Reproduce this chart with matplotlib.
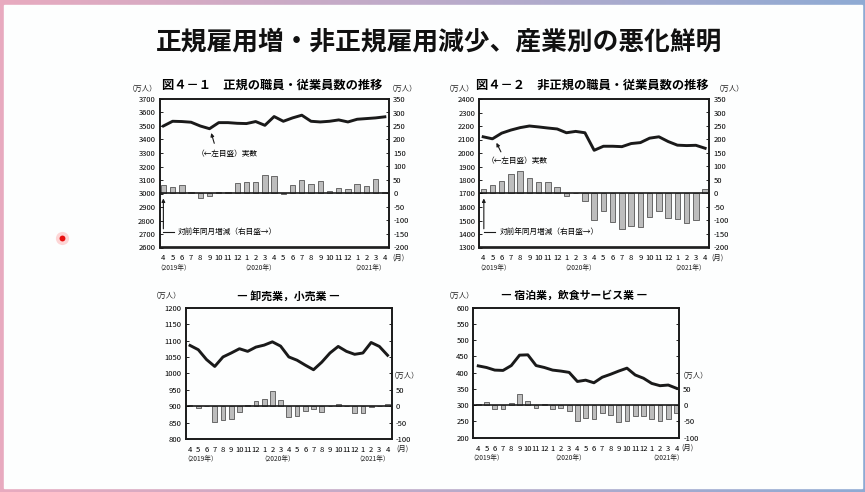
import numpy as np
import matplotlib
matplotlib.use("Agg")
import matplotlib.pyplot as plt
from matplotlib.patches import Rectangle

plt.rcParams["font.family"] = ["Noto Sans CJK JP", "DejaVu Sans"]

W, H = 865, 492

# months Apr 2019 .. Apr 2021
months = [4, 5, 6, 7, 8, 9, 10, 11, 12, 1, 2, 3, 4, 5, 6, 7, 8, 9, 10, 11, 12, 1, 2, 3, 4]

# fig 4-1 regular employees (level, left axis) and y/y change (right axis)
reg_level = [3500, 3535, 3533, 3528, 3500, 3480, 3525, 3525, 3520, 3518, 3533, 3505,
             3570, 3535, 3560, 3580, 3535, 3530, 3535, 3545, 3530, 3550, 3555, 3560, 3568]
reg_change = [33, 23, 31, 4, -18, -10, 5, 7, 40, 42, 43, 68,
              64, -1, 31, 51, 37, 46, 9, 21, 16, 36, 27, 53, 4]

# fig 4-2 non-regular employees
nonreg_level = [2120, 2105, 2147, 2170, 2188, 2200, 2193, 2185, 2178, 2150, 2160, 2150,
                2020, 2050, 2050, 2047, 2070, 2077, 2110, 2120, 2085, 2058, 2055, 2057, 2035]
nonreg_change = [15, 30, 47, 72, 83, 59, 41, 44, 25, -9, 0, -28,
                 -97, -63, -105, -131, -121, -123, -86, -63, -89, -93, -109, -97, 18]

# wholesale / retail
wr_level = [1085, 1072, 1042, 1021, 1050, 1062, 1075, 1067, 1080, 1086, 1096, 1083,
            1050, 1040, 1025, 1011, 1034, 1062, 1082, 1067, 1058, 1062, 1094, 1082, 1055]
wr_change = [5, -7, 0, -48, -43, -38, -17, 4, 16, 23, 46, 18,
             -34, -31, -15, -9, -17, 0, 8, 0, -22, -22, -2, 0, 8]

# accommodation / food service
af_level = [421, 416, 408, 407, 422, 454, 455, 422, 416, 408, 405, 401,
            373, 377, 369, 386, 395, 405, 414, 393, 383, 367, 360, 362, 352]
af_change = [5, 9, -11, -11, 6, 33, 14, -9, 3, -11, -8, -18,
             -50, -40, -41, -25, -30, -52, -48, -33, -34, -42, -50, -43, -24]

BAR = "#bdbdbd"
INK = "#1a1a1a"


def P(x, y):
    """pixel position (from top-left) -> figure fraction"""
    return x / W, 1 - y / H


def rect(x0, y0, x1, y1):
    return [x0 / W, 1 - y1 / H, (x1 - x0) / W, (y1 - y0) / H]


fig = plt.figure(figsize=(W / 100, H / 100), dpi=100)

# slide background (gradient border + white page)
bg = fig.add_axes([0, 0, 1, 1])
t = np.linspace(0, 1, 256)
left_c = np.array([0.91, 0.67, 0.75])
right_c = np.array([0.56, 0.67, 0.83])
grad = (left_c[None, :] * (1 - t[:, None]) + right_c[None, :] * t[:, None])[None, :, :]
bg.imshow(grad, aspect="auto", extent=[0, W, H, 0])
bg.add_patch(Rectangle((4, 5), 858, 483, color="#fdfefe"))
bg.scatter([62], [238], s=90, color="#ff6060", alpha=0.25, lw=0)
bg.scatter([62], [238], s=18, color="#e81010", lw=0)
bg.set_xlim(0, W); bg.set_ylim(H, 0); bg.axis("off")

fig.text(*P(439, 42), "正規雇用増・非正規雇用減少、産業別の悪化鮮明", fontsize=18.5,
         fontweight="bold", ha="center", va="center", color="#111")


def panel(r, level, change, ylim, yticks, rlim, rticks, rlab_max, xlim, fs=5.5):
    ax = fig.add_axes(r)
    ax2 = ax.twinx()
    x = np.arange(len(months))
    ax2.bar(x, change, width=0.58, color=BAR, edgecolor="#555", linewidth=0.6)
    ax2.axhline(0, color=INK, lw=1.2)
    ax.plot(x, level, color=INK, lw=2.1, solid_joinstyle="round")
    ax.set_zorder(ax2.get_zorder() + 1); ax.patch.set_visible(False)
    ax.set_xlim(*xlim); ax.set_ylim(*ylim); ax2.set_ylim(*rlim)
    ax.set_yticks(yticks)
    ax2.set_yticks(rticks)
    ax2.set_yticklabels([f"{v}" if v <= rlab_max else "" for v in rticks])
    ax.set_xticks(x)
    ax.set_xticklabels([str(m) for m in months])
    ax.tick_params(axis="x", length=0, labelsize=fs, pad=5)
    ax.tick_params(axis="y", direction="in", length=2.5, width=0.6, labelsize=fs, pad=3)
    ax2.tick_params(axis="y", direction="in", length=2.5, width=0.6, labelsize=fs, pad=3)
    for a in (ax, ax2):
        for s in a.spines.values():
            s.set_linewidth(1.2); s.set_color(INK)
    return ax, ax2


# ---- Fig 4-1
ax1, ax1r = panel(rect(159.5, 99, 389, 247.5), reg_level, reg_change,
                  (2600, 3700), range(2600, 3701, 100), (-200, 350),
                  range(-200, 351, 50), 350, (-0.42, 24.45))
fig.text(*P(272, 85), "図４－１　正規の職員・従業員数の推移", fontsize=8.8,
         fontweight="bold", ha="center", va="center")
ax1.annotate("", xy=(5.1, 3468), xytext=(5.6, 3352),
             arrowprops=dict(arrowstyle="-|>", color=INK, lw=0.8, mutation_scale=5))
ax1.text(6.9, 3290, "（←左目盛）実数", fontsize=5.5, ha="center", va="center")
ax1r.annotate("", xy=(0, -8), xytext=(0, -141),
              arrowprops=dict(arrowstyle="-|>", color=INK, lw=0.8, mutation_scale=5))
ax1r.plot([0, 1.15], [-141, -141], color=INK, lw=0.8)
ax1r.text(1.6, -141, "対前年同月増減（右目盛→）", fontsize=5.5, ha="left", va="center")

# ---- Fig 4-2
ax2, ax2r = panel(rect(479.3, 99, 709.3, 247.5), nonreg_level, nonreg_change,
                  (1300, 2400), range(1300, 2401, 100), (-200, 350),
                  range(-200, 351, 50), 350, (-0.42, 24.45))
fig.text(*P(592, 85), "図４－２　非正規の職員・従業員数の推移", fontsize=8.8,
         fontweight="bold", ha="center", va="center")
ax2.annotate("", xy=(1.3, 2094), xytext=(2.05, 1990),
             arrowprops=dict(arrowstyle="-|>", color=INK, lw=0.8, mutation_scale=5))
ax2.text(3.7, 1941, "（←左目盛）実数", fontsize=5.5, ha="center", va="center")
ax2r.annotate("", xy=(0.07, -8), xytext=(0.07, -141),
              arrowprops=dict(arrowstyle="-|>", color=INK, lw=0.8, mutation_scale=5))
ax2r.plot([0.07, 1.33], [-141, -141], color=INK, lw=0.8)
ax2r.text(1.8, -141, "対前年同月増減（右目盛→）", fontsize=5.5, ha="left", va="center")

# ---- wholesale / retail
ax3, ax3r = panel(rect(185.7, 307.7, 391.7, 439), wr_level, wr_change,
                  (800, 1200), range(800, 1201, 50), (-100, 300),
                  range(-100, 301, 50), 50, (-0.53, 24.5))
fig.text(*P(288, 296.5), "― 卸売業，小売業 ―", fontsize=7.8,
         fontweight="bold", ha="center", va="center")

# ---- accommodation / food service
ax4, ax4r = panel(rect(473.3, 307.7, 679, 437.7), af_level, af_change,
                  (200, 600), range(200, 601, 50), (-100, 300),
                  range(-100, 301, 50), 50, (-0.6, 24.3))
fig.text(*P(574, 296), "― 宿泊業，飲食サービス業 ―", fontsize=7.8,
         fontweight="bold", ha="center", va="center")

# unit labels, month marks and years
small = dict(fontsize=5.3, ha="center", va="center", color="#222")
for (x, y) in [(143, 89), (403, 89), (460, 89), (730, 89), (166.7, 295.5),
               (405, 375.7), (459.3, 295.7), (694, 375.7)]:
    fig.text(*P(x, y), "（万人）", **small)
mon = dict(fontsize=5.3, ha="left", va="center", color="#222")
for (x, y) in [(392, 257.5), (711.5, 257.5), (396.5, 448.5), (681.5, 448)]:
    fig.text(*P(x, y), "(月)", **mon)

yr = dict(fontsize=4.8, ha="center", va="center", color="#222")
for x, y, lab in [(174, 267.7, "（2019年）"), (259, 267.7, "（2020年）"), (369, 267.7, "（2021年）"),
                  (494, 267.7, "（2019年）"), (579, 267.7, "（2020年）"), (689, 267.7, "（2021年）"),
                  (201, 459, "（2019年）"), (278, 459, "（2020年）"), (373, 459, "（2021年）"),
                  (487, 458.3, "（2019年）"), (569, 458.3, "（2020年）"), (667, 458.3, "（2021年）")]:
    fig.text(*P(x, y), lab, **yr)

fig.savefig("out.png", dpi=100)
